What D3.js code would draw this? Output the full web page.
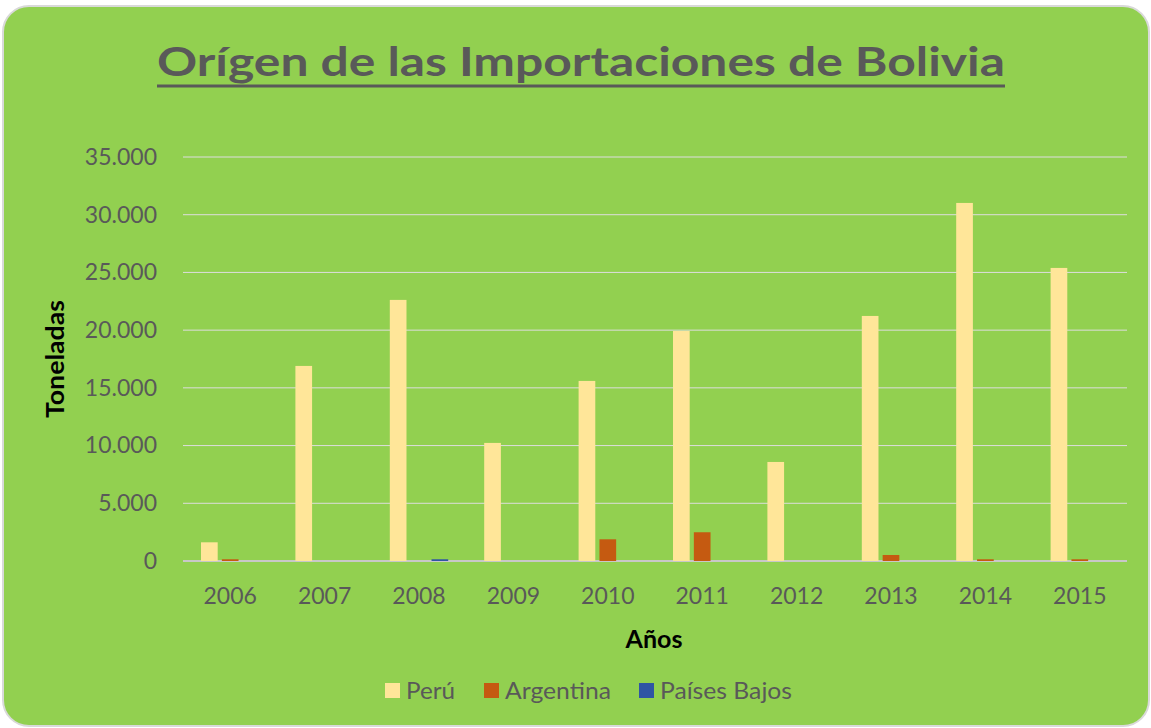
<!DOCTYPE html>
<html>
<head>
<meta charset="utf-8">
<script src="https://cdn.jsdelivr.net/npm/d3@7"></script>
<style>
  body { margin: 0; background: #fff; }
  text { font-family: Lato, "Open Sans", sans-serif; }
</style>
</head>
<body>
<div id="chart"></div>
<script>
// data
const years = ["2006","2007","2008","2009","2010","2011","2012","2013","2014","2015"]
const series = ["Perú", "Argentina", "Países Bajos"]
const peru = [1620, 16900, 22620, 10230, 15600, 19930, 8580, 21230, 31020, 25390]
const argentina = [150, 0, 0, 0, 1880, 2490, 0, 520, 150, 150]
const paisesBajos = [0, 0, 150, 0, 0, 0, 0, 0, 0, 0]
const yTicks = [0, 5000, 10000, 15000, 20000, 25000, 30000, 35000]
const colors = ["#FFE699", "#C55A11", "#2F55A4"]

const W = 1151, H = 728
const svg = d3.select("#chart").append("svg").attr("width", W).attr("height", H)

// green card
svg.append("rect")
    .attr("x", 3).attr("y", 6).attr("width", 1146).attr("height", 720)
    .attr("rx", 26)
    .attr("fill", "#92D050").attr("stroke", "#D9D9D9").attr("stroke-width", 2)

// title
svg.append("text")
    .attr("x", 581).attr("y", 76)
    .attr("text-anchor", "middle")
    .attr("font-size", 40).attr("font-weight", "bold")
    .attr("fill", "#595959")
    .attr("textLength", 848).attr("lengthAdjust", "spacingAndGlyphs")
    .text("Orígen de las Importaciones de Bolivia")
svg.append("line")
    .attr("x1", 157).attr("x2", 1005).attr("y1", 86).attr("y2", 86)
    .attr("stroke", "#595959").attr("stroke-width", 3)

let pLeft = 183, pRight = 1127, pTop = 157, pBottom = 561

let x0 = d3.scaleBand().domain(years).range([pLeft, pRight])
let x1 = d3.scaleBand().domain(series).range([18, x0.bandwidth() - 18]).paddingInner(0.2)
let y = d3.scaleLinear().domain([0, 35000]).range([pBottom, pTop])
let color = d3.scaleOrdinal(series, colors)

let fmt = d => d3.format(",")(d).replace(/,/g, ".")

// grid lines
svg.append("g").selectAll("line").data(yTicks).enter().append("line")
    .attr("x1", pLeft).attr("x2", pRight)
    .attr("y1", d => y(d)).attr("y2", d => y(d))
    .attr("stroke", d => d == 0 ? "#C8C8C8" : "#DDDDDD").attr("stroke-width", d => d == 0 ? 2 : 1)

// y axis labels
let yAxis = svg.append("g").attr("transform", `translate(${pLeft - 23},0)`)
    .call(d3.axisLeft(y).tickValues(yTicks).tickFormat(fmt).tickSize(0))
yAxis.select(".domain").remove()
yAxis.selectAll("text").attr("font-size", 23).attr("fill", "#595959")
    .attr("font-family", "Lato, sans-serif")

// x axis labels
let xAxis = svg.append("g").attr("transform", `translate(0,${pBottom + 24})`)
    .call(d3.axisBottom(x0).tickSize(0))
xAxis.select(".domain").remove()
xAxis.selectAll("text").attr("font-size", 23).attr("fill", "#595959")
    .attr("font-family", "Lato, sans-serif")

// bars
let rows = years.map((yr, i) => ({ year: yr, values: [peru[i], argentina[i], paisesBajos[i]] }))
let groups = svg.append("g").selectAll("g").data(rows).enter().append("g")
    .attr("transform", d => `translate(${x0(d.year)},0)`)
groups.selectAll("rect").data(d => d.values.map((v, j) => ({ s: series[j], v: v })).filter(d => d.v > 0))
    .enter().append("rect")
    .attr("x", d => x1(d.s))
    .attr("width", x1.bandwidth())
    .attr("y", d => y(d.v))
    .attr("height", d => y(0) - y(d.v))
    .attr("fill", d => color(d.s))

// axis titles
svg.append("text").attr("x", 654).attr("y", 648)
    .attr("text-anchor", "middle").attr("font-size", 24).attr("font-weight", "bold")
    .attr("textLength", 57).attr("lengthAdjust", "spacingAndGlyphs")
    .attr("fill", "#000").text("Años")
svg.append("text").attr("transform", "translate(64,359) rotate(-90)")
    .attr("text-anchor", "middle").attr("font-size", 24).attr("font-weight", "bold")
    .attr("textLength", 118).attr("lengthAdjust", "spacingAndGlyphs")
    .attr("fill", "#000").text("Toneladas")

// legend
let legendX = [385, 484, 639]
let legendW = [49, 106, 132]
let lg = svg.append("g").selectAll("g").data(series).enter().append("g")
    .attr("transform", (d, i) => `translate(${legendX[i]},683)`)
lg.append("rect").attr("width", 15).attr("height", 15).attr("fill", d => color(d))
lg.append("text").attr("x", 21).attr("y", 16).attr("font-size", 23)
    .attr("textLength", (d, i) => legendW[i]).attr("lengthAdjust", "spacingAndGlyphs")
    .attr("fill", "#595959").text(d => d)
</script>
</body>
</html>
